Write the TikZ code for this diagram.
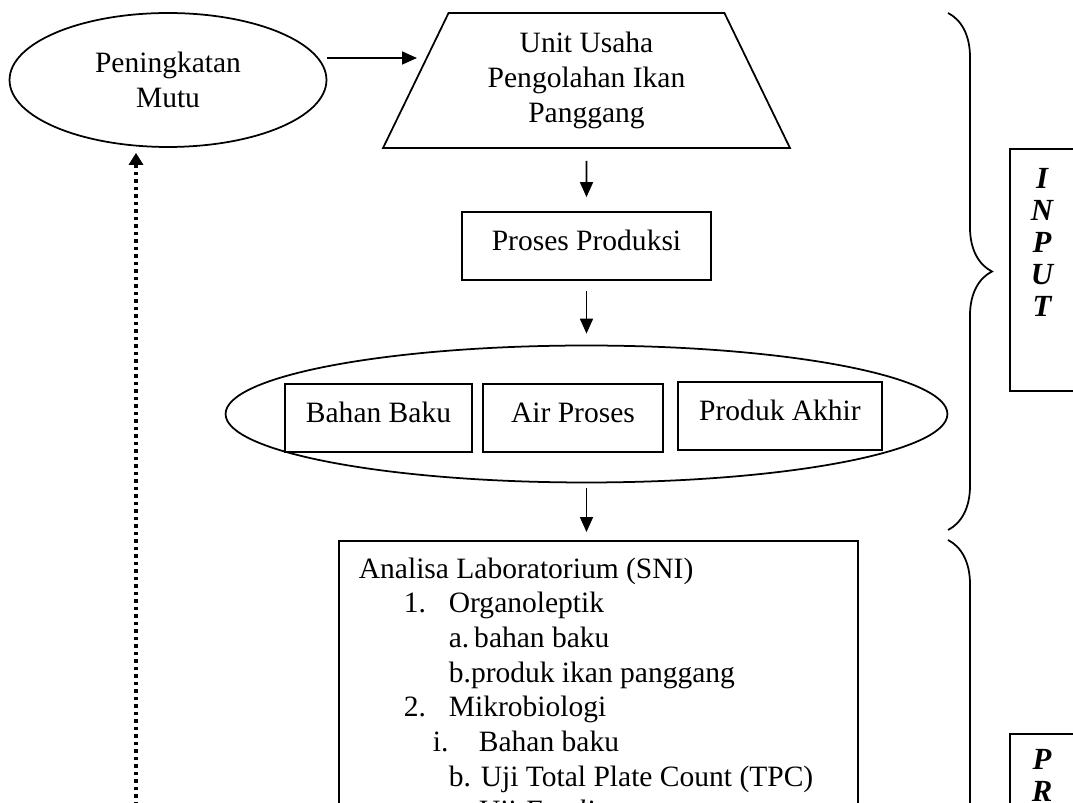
\documentclass[tikz,border=0pt]{standalone}
\usepackage{fontspec}
\setmainfont{Liberation Serif}
\usetikzlibrary{shapes.geometric}
\usetikzlibrary{arrows.meta}
\usetikzlibrary{calc,decorations.pathreplacing}

\begin{document}
\begin{tikzpicture}[x=0.02cm, y=-0.02cm, >={Triangle[length=0.3cm,width=0.26cm]}, line width=1pt,
  every node/.style={font=\fontsize{16.8}{19.7}\selectfont},
  box/.style={draw, rectangle, minimum height=1.36cm, text height=0.45cm, text depth=0.25cm},
  side/.style={draw, rectangle, anchor=north west, minimum width=2cm},
  sidetext/.style={align=center, font=\fontsize{17.5}{18.2}\selectfont\bfseries\itshape},
  brace/.style={decorate, decoration={brace, amplitude=0.88cm}}]

      \useasboundingbox (0,0) rectangle (1073,803);
      \clip (0,0) rectangle (1073,803);

      \node at (168,80) [ellipse, draw, minimum width=6.34cm, minimum height=2.68cm,
      align=center, name=mutu] {Peningkatan\\Mutu};

      \node at (586.5,80.5) [trapezium, trapezium angle=58.7, trapezium stretches body,
      minimum width=8.14cm, minimum height=2.7cm, draw, align=center, name=unit]
      {Unit Usaha\\Pengolahan Ikan\\Panggang};

      \node at (586.5,246) [box, minimum width=4.98cm, name=proses] {Proses Produksi};

      \node at (586.5,414) [ellipse, draw, minimum width=14.44cm, minimum height=2.74cm,
      name=sampel] {};
      \node at (378.5,418) [box, minimum width=3.74cm, name=bahan] {Bahan Baku};
      \node at (573,418) [box, minimum width=3.6cm, name=air] {Air Proses};
      \node at (780,416) [box, minimum width=4.08cm, name=produk] {Produk Akhir};

      \node at (338,540) [draw, anchor=north west, minimum width=10.38cm,
      minimum height=9.2cm, name=lab] {};
      \node at (358,557) [anchor=north west, align=left, inner sep=0pt, name=labtxt]
      {Analisa Laboratorium (SNI)\\
      \hspace*{0.9cm}\makebox[0.9cm][l]{1.}Organoleptik\\
      \hspace*{1.8cm}a.\,bahan baku\\
      \hspace*{1.8cm}b.produk ikan panggang\\
      \hspace*{0.9cm}\makebox[0.9cm][l]{2.}Mikrobiologi\\
      \hspace*{1.48cm}\makebox[0.92cm][l]{i.}Bahan baku\\
      \hspace*{1.8cm}b. Uji Total Plate Count (TPC)\\
      \hspace*{1.8cm}c. Uji \textit{E.coli}};

      % kurung kurawal dan kotak tahap
      \coordinate (inTop) at (948,13);
      \coordinate (inBot) at (948,530);
      \coordinate (prTop) at (948,540);
      \coordinate (prBot) at (948,1300);
      \draw [brace] (inTop) -- (inBot);
      \draw [brace] (prTop) -- (prBot);

      \node at (1009,148) [side, minimum height=4.84cm, name=inputbox] {};
      \node at (1042,242) [sidetext, name=inputtxt] {I\\N\\P\\U\\T};

      \node at (1009,733) [side, minimum height=8cm, name=prosesbox] {};
      \node at (1042,743) [sidetext, anchor=north, name=prosestxt] {P\\R};

      % panah
      \coordinate (unitIn) at (417,58);
      \draw [->] ($(mutu.east)+(0,-22)$) -- (unitIn);
      \draw [->, shorten <=0.24cm, shorten >=0.28cm] (unit.south) -- (proses.north);
      \draw [->, shorten <=0.2cm, shorten >=0.22cm] (proses.south) -- (sampel.north);
      \draw [->, shorten <=0.1cm, shorten >=0.16cm] (sampel.south) -- (sampel.south |- lab.north);

      \coordinate (umpan) at (136,820);
      \draw [->, line width=2.2pt, dash pattern=on 0.066cm off 0.084cm, shorten >=0.1cm,
      >={Triangle[length=0.24cm,width=0.28cm]}] (umpan) -- (umpan |- mutu.south);
    \end{tikzpicture}
\end{document}
